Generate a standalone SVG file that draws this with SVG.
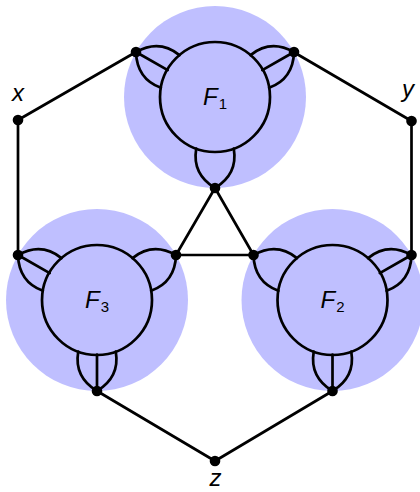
<svg xmlns="http://www.w3.org/2000/svg" xmlns:xlink="http://www.w3.org/1999/xlink" width="420" height="492" viewBox="0 0 420 492">
<style>
.bg{fill:#bfbfff;stroke:none}
.e{fill:none;stroke:#000;stroke-width:2.7;stroke-linecap:round}
.dot{fill:#000}
.lab{font-family:"Liberation Sans",Arial,sans-serif;font-size:24px;font-style:italic;fill:#000}
.sub{font-family:"Liberation Sans",Arial,sans-serif;font-size:15px;font-style:normal;fill:#000}
</style>
<defs>
<path id="petal" class="e" d="M0,0 Q14,23 39.3,18.8 M0,0 Q14,-23 39.3,-18.8"/>
<path id="spoke" class="e" d="M0,0 L36.5,0"/>
<circle id="d" class="dot" r="5.3"/>
</defs>
<g id="connectors" class="e">
<line x1="18" y1="120" x2="136" y2="52"/>
<line x1="18" y1="120" x2="18" y2="255"/>
<line x1="411.5" y1="121" x2="293.5" y2="52"/>
<line x1="411.5" y1="121" x2="411.5" y2="255"/>
<line x1="215" y1="461" x2="97" y2="391"/>
<line x1="215" y1="461" x2="332.5" y2="391"/>
<line x1="215" y1="188" x2="176" y2="255"/>
<line x1="215" y1="188" x2="253.5" y2="255"/>
<line x1="176" y1="255" x2="253.5" y2="255"/>
</g>
<g id="F1" transform="translate(215,97)">
<circle class="bg" r="91"/>
<circle class="e" r="55"/>
<use xlink:href="#petal" transform="translate(-79,-45) rotate(29.67)"/>
<use xlink:href="#petal" transform="translate(79,-45) rotate(150.33)"/>
<use xlink:href="#petal" transform="translate(0,91) rotate(-90)"/>
<use xlink:href="#spoke" transform="translate(-79,-45) rotate(29.67)"/>
<use xlink:href="#spoke" transform="translate(79,-45) rotate(150.33)"/>
<use xlink:href="#d" x="-79" y="-45"/>
<use xlink:href="#d" x="79" y="-45"/>
<use xlink:href="#d" x="0" y="91"/>
<text class="lab"><tspan x="-12" y="8">F</tspan><tspan class="sub" x="3.8" y="11.5">1</tspan></text>
</g>
<g id="F3" transform="translate(97,300)">
<circle class="bg" r="91"/>
<circle class="e" r="55"/>
<use xlink:href="#petal" transform="translate(-79,-45) rotate(29.67)"/>
<use xlink:href="#petal" transform="translate(79,-45) rotate(150.33)"/>
<use xlink:href="#petal" transform="translate(0,91) rotate(-90)"/>
<use xlink:href="#spoke" transform="translate(-79,-45) rotate(29.67)"/>
<use xlink:href="#spoke" transform="translate(0,91) rotate(-90)"/>
<use xlink:href="#d" x="-79" y="-45"/>
<use xlink:href="#d" x="79" y="-45"/>
<use xlink:href="#d" x="0" y="91"/>
<text class="lab"><tspan x="-12" y="8">F</tspan><tspan class="sub" x="3.8" y="11.5">3</tspan></text>
</g>
<g id="F2" transform="translate(332.5,300)">
<circle class="bg" r="91"/>
<circle class="e" r="55"/>
<use xlink:href="#petal" transform="translate(-79,-45) rotate(29.67)"/>
<use xlink:href="#petal" transform="translate(79,-45) rotate(150.33)"/>
<use xlink:href="#petal" transform="translate(0,91) rotate(-90)"/>
<use xlink:href="#spoke" transform="translate(79,-45) rotate(150.33)"/>
<use xlink:href="#spoke" transform="translate(0,91) rotate(-90)"/>
<use xlink:href="#d" x="-79" y="-45"/>
<use xlink:href="#d" x="79" y="-45"/>
<use xlink:href="#d" x="0" y="91"/>
<text class="lab"><tspan x="-12" y="8">F</tspan><tspan class="sub" x="3.8" y="11.5">2</tspan></text>
</g>
<g id="x">
<use xlink:href="#d" x="18" y="120"/>
<text class="lab" x="12" y="100.5">x</text>
</g>
<g id="y">
<use xlink:href="#d" x="411.5" y="121"/>
<text class="lab" x="402" y="97">y</text>
</g>
<g id="z">
<use xlink:href="#d" x="215" y="461"/>
<text class="lab" x="209.5" y="486">z</text>
</g>
</svg>
